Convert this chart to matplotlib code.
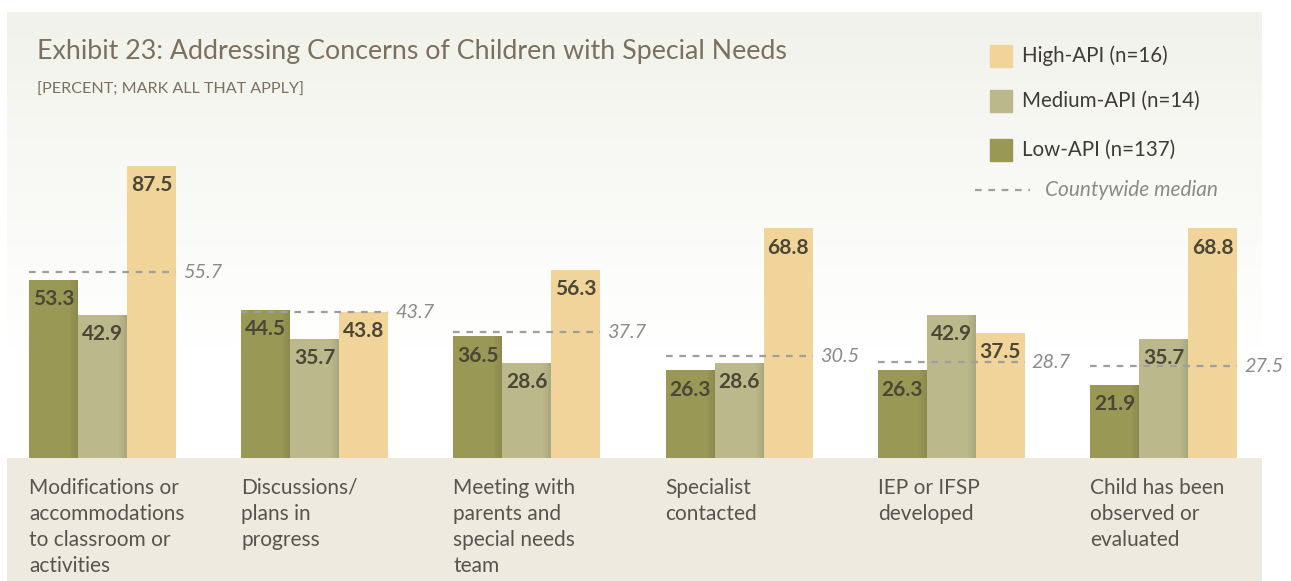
import numpy as np
import matplotlib
matplotlib.use("Agg")
import matplotlib.pyplot as plt
from matplotlib.patches import Rectangle

plt.rcParams['font.family'] = ['Lato', 'DejaVu Sans']

categories = [
    "Modifications or\naccommodations\nto classroom or\nactivities",
    "Discussions/\nplans in\nprogress",
    "Meeting with\nparents and\nspecial needs\nteam",
    "Specialist\ncontacted",
    "IEP or IFSP\ndeveloped",
    "Child has been\nobserved or\nevaluated",
]
low_api = [53.3, 44.5, 36.5, 26.3, 26.3, 21.9]
medium_api = [42.9, 35.7, 28.6, 28.6, 42.9, 35.7]
high_api = [87.5, 43.8, 56.3, 68.8, 37.5, 68.8]
county_median = [55.7, 43.7, 37.7, 30.5, 28.7, 27.5]

series_names = ["Low-API (n=137)", "Medium-API (n=14)", "High-API (n=16)"]
colors = ["#9a9855", "#bbb98b", "#f1d499"]

W, H = 1291, 581
fig = plt.figure(figsize=(W / 100, H / 100), dpi=100)
fig.patch.set_facecolor("white")


def fx(px):
    return px / W


def fy(py):
    return 1 - py / H


# panel: pixels 7..1262 across, 12..581 down; baseline at y=458
pl, pr, pt, pb = 7, 1262, 12, 581
base_py = 458
px_per_unit = 3.337
ax = fig.add_axes([fx(pl), fy(pb), fx(pr - pl), (pb - pt) / H])
ymin = -(pb - base_py) / px_per_unit
ymax = (base_py - pt) / px_per_unit
grp = 212.2
x0 = (pl - 102.5) / grp
x1 = (pr - 102.5) / grp
ax.set_xlim(x0, x1)
ax.set_ylim(ymin, ymax)
ax.axis("off")

# soft gradient behind the bars, beige band under them
grad = np.linspace(0, 1, 256)[:, None]
top_c = np.array([242, 242, 236]) / 255
bot_c = np.array([255, 255, 255]) / 255
t = np.clip(grad / 0.75, 0, 1)
img = top_c * (1 - t[..., None]) + bot_c * t[..., None]
ax.imshow(img, extent=[x0, x1, 0, ymax], origin="upper", aspect="auto", zorder=0)
ax.add_patch(Rectangle((x0, ymin), x1 - x0, -ymin, color="#eeeae0", zorder=1, lw=0))

w = 49 / grp
x = np.arange(len(categories))
for k, (vals, c) in enumerate(zip([low_api, medium_api, high_api], colors)):
    pos = x + (k - 1) * w
    ax.bar(pos, vals, width=w, color=c, zorder=2, linewidth=0)
    for xi, v in zip(pos, vals):
        ax.text(xi, v - 2.8, f"{v:.1f}", ha="center", va="top", fontsize=15,
                fontweight="bold", color="#4b4737", zorder=5)
        if k < 2:
            # shade the right edge where the next bar sits
            sw = 8 / grp
            for j in range(8):
                ax.add_patch(Rectangle((xi + w / 2 - sw + j * sw / 8, 0), sw / 8, v,
                                       color="black", alpha=0.012 * (j + 1), lw=0, zorder=3))

for i, m in enumerate(county_median):
    ax.plot([i - 1.5 * w, i + 1.5 * w], [m, m], ls=(0, (3, 3)), color="#9e9e9e",
            lw=1.6, zorder=4)
    ax.text(i + 1.5 * w + 7 / grp, m, f"{m:.1f}", ha="left", va="center",
            fontsize=14.3, style="italic", color="#8a8a8a", zorder=5)
    ax.text(i - 1.5 * w, -(478 - base_py) / px_per_unit, categories[i], ha="left",
            va="top", fontsize=15, color="#57544f", linespacing=1.38, zorder=5)

# title block
fig.text(fx(37), fy(51), "Exhibit 23: Addressing Concerns of Children with Special Needs",
         ha="left", va="center", fontsize=19.3, color="#7b705f")
fig.text(fx(37), fy(90), "[PERCENT; MARK ALL THAT APPLY]", ha="left", va="center",
         fontsize=11.6, color="#7b705f")

# legend
leg = [("High-API (n=16)", colors[2], 56), ("Medium-API (n=14)", colors[1], 101),
       ("Low-API (n=137)", colors[0], 150)]
for lab, c, yc in leg:
    fig.patches.append(Rectangle((fx(990), fy(yc + 11)), 22 / W, 22 / H, color=c,
                                 transform=fig.transFigure, figure=fig))
    fig.text(fx(1022), fy(yc), lab, ha="left", va="center", fontsize=14.8, color="#3f3c36")
fig.add_artist(plt.Line2D([fx(975), fx(1030)], [fy(190), fy(190)], ls=(0, (3, 3)),
                          color="#9e9e9e", lw=1.6, transform=fig.transFigure))
fig.text(fx(1045), fy(190), "Countywide median", ha="left", va="center", fontsize=15,
         style="italic", color="#8a8a8a")

fig.savefig("out.png", dpi=100, facecolor="white")
